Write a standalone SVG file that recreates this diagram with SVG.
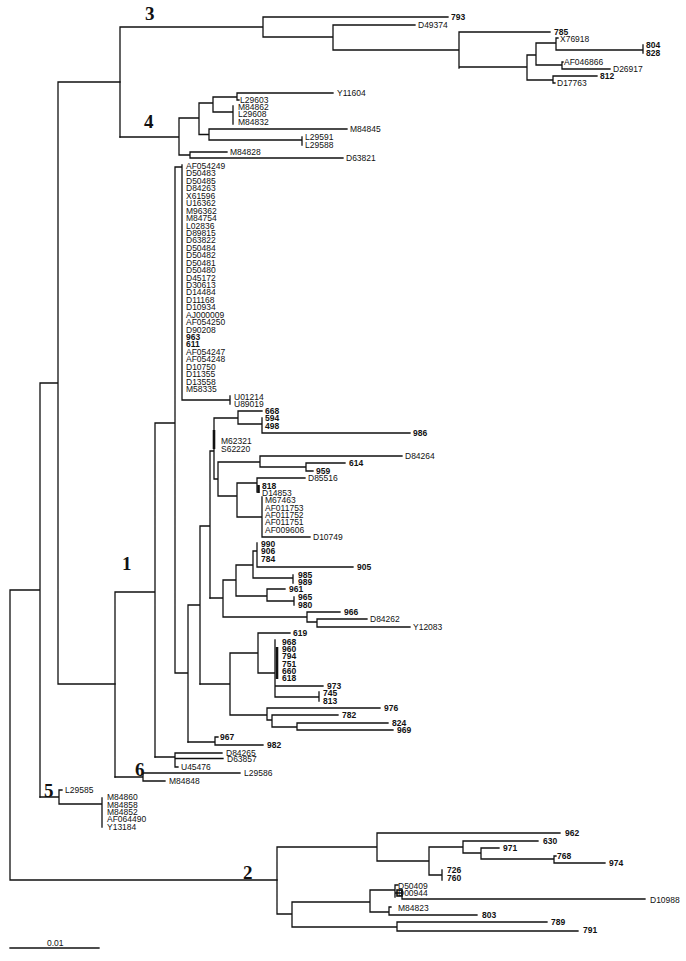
<svg xmlns="http://www.w3.org/2000/svg" width="686" height="961" viewBox="0 0 686 961">
<style>
.br{fill:none;stroke:#111;stroke-width:1.3;stroke-linecap:square}
.bar{fill:none;stroke:#111;stroke-width:2.6}
text{font-family:"Liberation Sans",Arial,sans-serif;font-size:8.5px;fill:#111}
.b{font-weight:bold}
.cl{font-family:"Liberation Serif","Times New Roman",serif;font-size:19px;font-weight:bold}
</style>
<rect width="686" height="961" fill="#fff"/>
<g id="connectors">
<path class="br" d="M10,590V880M10,590H40M40,383V797M40,383H58M58,82V684M58,82H120M58,684H115M10,880H277"/>
<path class="br" d="M120,27V137M120,27H263M263,17V37M263,17H448M263,37H333M333,25V50M333,25H415M333,50H459M459,32V68M459,32H550M459,67H527M527,55V80M527,55H536M536,43V65M536,43H556M556,38V50M556,38H558M556,50H643M643,45V53M536,65H562M562,62V69M562,62H563M562,69H610M527,80H553M553,76V83M553,76H597M553,83H555"/>
<path class="br" d="M120,137H179M179,118V155M179,118H199M199,103V134.5M199,103H213M213,97V112M213,97H237M237,93V100M237,93H333M237,100H239M213,112H233M233,106V124M199,134.5H209M209,129V140M209,129H347M209,140H302M302,137V145M179,155H190M190,152V158M190,152H227M190,158H343"/>
<path class="br" d="M115,592V777M115,592H155M155,423V757M155,423H175M175,167V673M175,167H182M182,165V400M182,400H230M230,396V404M175,673H188M188,605V742M188,605H200M200,526V684M200,526H210M210,451V598M210,451H214M214,418V479M214,418H238M238,411V424M238,411H262M238,424H262M262,418V433M262,433H410M214,479H218M218,462V496M218,462H260M260,456V467M260,456H402M260,467H306M306,463V471M306,463H345M306,471H313M218,496H237M237,483V517M237,483H257M257,478V492M257,478H305M237,517H262M262,497V537M262,537H310"/>
<path class="br" d="M210,598H223M223,580V617M223,580H236M236,565V596M236,565H253M253,551V578M253,551H257M257,543V567M257,567H353M253,578H293M293,575V583M236,596H267M267,589V601M267,589H285M267,601H294M294,597V605M223,617H307M307,612V622M307,612H340M307,622H317M317,619V627M317,619H367M317,627H410"/>
<path class="br" d="M200,684H230M230,653V715M230,653H258M258,633V673M258,633H290M258,673H275M275,640V697M275,686H323M275,697H319M319,692V701M230,715H267M267,708V720M267,708H380M267,720H272M272,715V727M272,715H338M272,727H297M297,723V730M297,723H388M297,730H393M188,742H215M215,737V745M215,737H218M215,745H263M155,757H175M175,753V767M175,753H222M175,758.5H223M175,767H178"/>
<path class="bar" d="M214,430V449M277,647V679M258.5,485V493"/>
<path class="br" d="M115,777H143M143,773V781M143,773H240M143,781H165"/>
<path class="br" d="M40,797H59M59,790V804M59,790H62M59,804H102M102,798V827"/>
<path class="br" d="M277,847V914M277,847H377M377,833V861M377,833H560M377,861H429M429,847V875M429,847H463M463,841V853M463,841H538M463,853H481M481,848V859M481,848H499M481,859H554M554,856V863M554,856H556M554,863H605M429,875H442M442,870V880M277,914H292M292,902V927M292,902H370M370,890V912M370,890H395M395,885V897M395,885H398M395,893H402M402,890V899M402,899H645M370,912H389M389,907V915M389,907H391M389,915H477M292,927H397M397,922V931M397,922H547M397,931H578"/>
<rect x="397" y="890" width="5" height="6" fill="none" stroke="#111" stroke-width="1.6"/>
<path class="br" d="M10,948H99"/>
</g>
<g id="clade-labels">
<text class="cl" x="145" y="20">3</text>
<text class="cl" x="144" y="128">4</text>
<text class="cl" x="122" y="570">1</text>
<text class="cl" x="135" y="776">6</text>
<text class="cl" x="44" y="797">5</text>
<text class="cl" x="243" y="879">2</text>
</g>
<g id="clade3">
<text class="b" x="451" y="20">793</text>
<text x="418" y="28">D49374</text>
<text class="b" x="554" y="35">785</text>
<text x="560" y="42">X76918</text>
<text class="b" x="646" y="48">804</text>
<text class="b" x="646" y="56">828</text>
<text x="564" y="65">AF046866</text>
<text x="613" y="72">D26917</text>
<text class="b" x="600" y="79">812</text>
<text x="557" y="86">D17763</text>
</g>
<g id="clade4">
<text x="337" y="96">Y11604</text>
<text x="240" y="103">L29603</text>
<text x="238" y="110">M84862</text>
<text x="238" y="117">L29608</text>
<text x="238" y="124.5">M84832</text>
<text x="350" y="132">M84845</text>
<text x="305" y="140">L29591</text>
<text x="305" y="147.5">L29588</text>
<text x="230" y="155">M84828</text>
<text x="346" y="161">D63821</text>
</g>
<g id="clade1">
<text x="186" y="169">AF054249</text>
<text x="186" y="176.4">D50483</text>
<text x="186" y="183.9">D50485</text>
<text x="186" y="191.3">D84263</text>
<text x="186" y="198.7">X61596</text>
<text x="186" y="206.2">U16362</text>
<text x="186" y="213.6">M96362</text>
<text x="186" y="221">M84754</text>
<text x="186" y="228.5">L02836</text>
<text x="186" y="235.9">D89815</text>
<text x="186" y="243.3">D63822</text>
<text x="186" y="250.8">D50484</text>
<text x="186" y="258.2">D50482</text>
<text x="186" y="265.6">D50481</text>
<text x="186" y="273.1">D50480</text>
<text x="186" y="280.5">D45172</text>
<text x="186" y="287.9">D30613</text>
<text x="186" y="295.4">D14484</text>
<text x="186" y="302.8">D11168</text>
<text x="186" y="310.2">D10934</text>
<text x="186" y="317.7">AJ000009</text>
<text x="186" y="325.1">AF054250</text>
<text x="186" y="332.5">D90208</text>
<text class="b" x="186" y="340">963</text>
<text class="b" x="186" y="347.4">611</text>
<text x="186" y="354.8">AF054247</text>
<text x="186" y="362.3">AF054248</text>
<text x="186" y="369.7">D10750</text>
<text x="186" y="377.1">D11355</text>
<text x="186" y="384.6">D13558</text>
<text x="186" y="392">M58335</text>
<text x="234" y="400">U01214</text>
<text x="234" y="407">U89019</text>
<text class="b" x="265" y="414">668</text>
<text class="b" x="265" y="421">594</text>
<text class="b" x="265" y="429">498</text>
<text class="b" x="413" y="436">986</text>
<text x="221" y="444">M62321</text>
<text x="221" y="452">S62220</text>
<text x="405" y="459">D84264</text>
<text class="b" x="349" y="466">614</text>
<text class="b" x="316" y="474">959</text>
<text x="308" y="481">D85516</text>
<text class="b" x="262" y="489">818</text>
<text x="262" y="496">D14853</text>
<text x="265" y="503">M67463</text>
<text x="265" y="510.5">AF011753</text>
<text x="265" y="518">AF011752</text>
<text x="265" y="525">AF011751</text>
<text x="265" y="532.5">AF009606</text>
<text x="313" y="540">D10749</text>
<text class="b" x="261" y="547">990</text>
<text class="b" x="261" y="554">906</text>
<text class="b" x="261" y="562">784</text>
<text class="b" x="357" y="570">905</text>
<text class="b" x="298" y="578">985</text>
<text class="b" x="298" y="585">989</text>
<text class="b" x="289" y="592">961</text>
<text class="b" x="298" y="600">965</text>
<text class="b" x="298" y="608">980</text>
<text class="b" x="344" y="615">966</text>
<text x="370" y="622">D84262</text>
<text x="413" y="630">Y12083</text>
<text class="b" x="293" y="636">619</text>
<text class="b" x="282" y="644.5">968</text>
<text class="b" x="282" y="652">960</text>
<text class="b" x="282" y="659">794</text>
<text class="b" x="282" y="666.5">751</text>
<text class="b" x="282" y="674">660</text>
<text class="b" x="282" y="681">618</text>
<text class="b" x="327" y="689">973</text>
<text class="b" x="323" y="695.5">745</text>
<text class="b" x="323" y="703.5">813</text>
<text class="b" x="384" y="711">976</text>
<text class="b" x="342" y="718">782</text>
<text class="b" x="392" y="725.5">824</text>
<text class="b" x="397" y="733">969</text>
<text class="b" x="220" y="740">967</text>
<text class="b" x="267" y="748">982</text>
<text x="226" y="756">D84265</text>
<text x="227" y="762">D63857</text>
<text x="181" y="770">U45476</text>
</g>
<g id="clade6">
<text x="244" y="776">L29586</text>
<text x="169" y="784">M84848</text>
</g>
<g id="clade5">
<text x="65" y="793">L29585</text>
<text x="107" y="800">M84860</text>
<text x="107" y="807.5">M84858</text>
<text x="107" y="815">M84852</text>
<text x="107" y="822">AF064490</text>
<text x="107" y="829.5">Y13184</text>
</g>
<g id="clade2">
<text class="b" x="565" y="836">962</text>
<text class="b" x="543" y="844">630</text>
<text class="b" x="503" y="851">971</text>
<text class="b" x="557" y="859">768</text>
<text class="b" x="609" y="866">974</text>
<text class="b" x="447" y="873">726</text>
<text class="b" x="447" y="881">760</text>
<text x="398" y="889">D50409</text>
<text x="398" y="896">D00944</text>
<text x="650" y="903">D10988</text>
<text x="398" y="911">M84823</text>
<text class="b" x="482" y="918">803</text>
<text class="b" x="551" y="925">789</text>
<text class="b" x="583" y="933">791</text>
</g>
<g id="scale">
<text x="47" y="946">0.01</text>
</g>
</svg>
